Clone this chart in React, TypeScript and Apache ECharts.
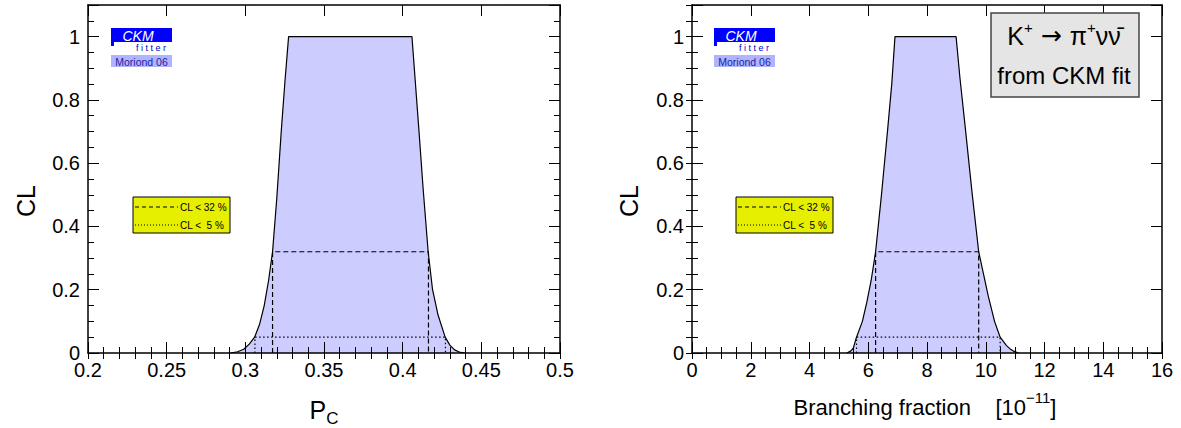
import { useEffect, useRef } from "react";
import * as echarts from "echarts";

const FONT = "'Liberation Sans', Arial, Helvetica, sans-serif";

// ---- Left panel: CL vs P_c ----
const pcX = [0.2906, 0.295, 0.299, 0.3025, 0.3059, 0.309, 0.312, 0.3148, 0.3173, 0.32, 0.3229, 0.3252, 0.3275, 0.4059, 0.408, 0.4103, 0.413, 0.4162, 0.419, 0.4225, 0.427, 0.43, 0.433, 0.436, 0.4394];
const pcCL = [0, 0.004, 0.012, 0.028, 0.05, 0.09, 0.15, 0.23, 0.32, 0.49, 0.706, 0.86, 1, 1, 0.86, 0.706, 0.52, 0.32, 0.2, 0.12, 0.05, 0.025, 0.01, 0.003, 0];
const pc32 = [0.3173, 0.4164];
const pc05 = [0.3061, 0.4272];

// ---- Right panel: CL vs BR(K+ -> pi+ nu nubar) [1e-11] ----
const brX = [5.27, 5.4, 5.49, 5.6, 5.8, 5.95, 6.1, 6.25, 6.45, 6.66, 6.8, 6.91, 8.99, 9.12, 9.31, 9.53, 9.76, 10.09, 10.3, 10.49, 10.7, 10.83, 10.97, 11.11];
const brCL = [0, 0.006, 0.015, 0.05, 0.1, 0.16, 0.23, 0.32, 0.5, 0.706, 0.85, 1, 1, 0.871, 0.706, 0.51, 0.32, 0.178, 0.1, 0.05, 0.024, 0.013, 0.005, 0];
const br32 = [6.25, 9.76];
const br05 = [5.6, 10.49];

const clLevels = [0.32, 0.05];
const legendLabels = ["CL < 32 %", "CL <  5 %"];

const pcRange = { min: 0.2, max: 0.5, major: 0.05, minor: 0.01 };
const brRange = { min: 0, max: 16, major: 2, minor: 0.5 };
const clRange = { min: 0, max: 1.1, major: 0.2, minor: 0.05 };

const BLACK = "#000";

function fmt(v: number) {
  return String(+v.toFixed(3));
}

function xAxes(grid: number, r: any) {
  const base: any = { type: "value", gridIndex: grid, min: r.min, max: r.max, splitLine: { show: false }, z: 10 };
  const line = { show: true, onZero: false, lineStyle: { color: BLACK, width: 1.5 } };
  const major = { show: true, inside: true, length: 11, lineStyle: { color: BLACK, width: 1 } };
  const minor = { show: true, inside: true, length: 6, lineStyle: { color: BLACK, width: 1 } };
  return [
    { ...base, position: "bottom", interval: r.major, axisLine: line, axisTick: major,
      axisLabel: { show: true, color: BLACK, fontSize: 20, fontFamily: FONT, margin: 7, formatter: fmt } },
    { ...base, position: "bottom", interval: r.minor, axisLine: { show: false }, axisTick: minor, axisLabel: { show: false } },
    { ...base, position: "top", interval: r.major, axisLine: line, axisTick: major, axisLabel: { show: false } },
    { ...base, position: "top", interval: r.minor, axisLine: { show: false }, axisTick: minor, axisLabel: { show: false } },
  ];
}

function yAxes(grid: number, r: any) {
  const base: any = { type: "value", gridIndex: grid, min: r.min, max: r.max, splitLine: { show: false }, z: 10 };
  const line = { show: true, onZero: false, lineStyle: { color: BLACK, width: 1.5 } };
  const major = { show: true, inside: true, length: 11, lineStyle: { color: BLACK, width: 1 } };
  const minor = { show: true, inside: true, length: 6, lineStyle: { color: BLACK, width: 1 } };
  return [
    { ...base, position: "left", interval: r.major, axisLine: line, axisTick: major,
      axisLabel: { show: true, color: BLACK, fontSize: 20, fontFamily: FONT, margin: 8,
        formatter: (v: number) => (v > 1.001 ? "" : fmt(v)) } },
    { ...base, position: "left", interval: r.minor, axisLine: { show: false }, axisTick: minor, axisLabel: { show: false } },
    { ...base, position: "right", interval: r.major, axisLine: line, axisTick: major, axisLabel: { show: false } },
    { ...base, position: "right", interval: r.minor, axisLine: { show: false }, axisTick: minor, axisLabel: { show: false } },
  ];
}

function panelSeries(axisIdx: number, xs: number[], cl: number[], b32: number[], b05: number[]) {
  const curve = xs.map((x, i) => [x, cl[i]]);
  const box = (b: number[], lvl: number) => [[b[0], 0], [b[0], lvl], [b[1], lvl], [b[1], 0]];
  const common = { type: "line", xAxisIndex: axisIdx, yAxisIndex: axisIdx, symbol: "none", silent: true };
  return [
    { ...common, data: curve, z: 2, lineStyle: { color: BLACK, width: 1.2 }, areaStyle: { color: "#ccccff", opacity: 1 } },
    { ...common, data: box(b32, clLevels[0]), z: 3, lineStyle: { color: BLACK, width: 1.2, type: [5, 3] } },
    { ...common, data: box(b05, clLevels[1]), z: 3, lineStyle: { color: BLACK, width: 1.2, type: [1.5, 2.5] } },
  ];
}

function logo(x: number, y: number) {
  return {
    type: "group", x, y, z: 20,
    children: [
      { type: "rect", shape: { x: 0, y: 0, width: 61, height: 18 }, style: { fill: "#0000ff" } },
      { type: "rect", shape: { x: 3, y: 14, width: 58, height: 4 }, style: { fill: "#ffffff" } },
      { type: "text", x: 27, y: 7.5, style: { text: "CKM", fill: "#fff", font: `italic 14px ${FONT}`, align: "center", verticalAlign: "middle" } },
      { type: "text", x: 40, y: 19.5, style: { text: "f i t t e r", fill: "#0000cc", font: `9px ${FONT}`, align: "center", verticalAlign: "middle" } },
      { type: "rect", shape: { x: 0, y: 27, width: 61, height: 12 }, style: { fill: "#b0b4ff" } },
      { type: "text", x: 30.5, y: 33.5, style: { text: "Moriond 06", fill: "#2323a0", font: `10.5px ${FONT}`, align: "center", verticalAlign: "middle" } },
    ],
  };
}

function legendBox(x: number, y: number) {
  return {
    type: "group", x, y, z: 20,
    children: [
      { type: "rect", shape: { x: 0, y: 0, width: 97, height: 36 }, style: { fill: "#e6ef00", stroke: BLACK, lineWidth: 1 } },
      { type: "line", shape: { x1: 2, y1: 10, x2: 45, y2: 10 }, style: { stroke: BLACK, lineWidth: 1, lineDash: [4, 3] } },
      { type: "line", shape: { x1: 2, y1: 28, x2: 45, y2: 28 }, style: { stroke: BLACK, lineWidth: 1, lineDash: [1, 2] } },
      { type: "text", x: 47, y: 10, style: { text: legendLabels[0], fill: BLACK, font: `10px ${FONT}`, verticalAlign: "middle" } },
      { type: "text", x: 47, y: 28, style: { text: legendLabels[1], fill: BLACK, font: `10px ${FONT}`, verticalAlign: "middle" } },
    ],
  };
}

export default function App() {
  const ref = useRef<HTMLDivElement>(null);
  useEffect(() => {
    if (!ref.current) return;
    const chart = echarts.init(ref.current, undefined, { renderer: "svg" });
    const option: any = {
      animation: false,
      backgroundColor: "#ffffff",
      grid: [
        { left: 88, top: 5, width: 472, height: 348 },
        { left: 692, top: 5, width: 470, height: 348 },
      ],
      xAxis: [...xAxes(0, pcRange), ...xAxes(1, brRange)],
      yAxis: [...yAxes(0, clRange), ...yAxes(1, clRange)],
      series: [
        ...panelSeries(0, pcX, pcCL, pc32, pc05),
        ...panelSeries(4, brX, brCL, br32, br05),
      ],
      graphic: [
        logo(111, 28),
        logo(714, 28),
        legendBox(133, 197),
        legendBox(736, 197),
        { type: "text", x: 26, y: 201, rotation: Math.PI / 2, z: 20,
          style: { text: "CL", font: `25px ${FONT}`, fill: BLACK, align: "center", verticalAlign: "middle" } },
        { type: "text", x: 629, y: 201, rotation: Math.PI / 2, z: 20,
          style: { text: "CL", font: `25px ${FONT}`, fill: BLACK, align: "center", verticalAlign: "middle" } },
        { type: "text", x: 324, y: 410, z: 20,
          style: { text: "{p|P}{c|C}", align: "center", verticalAlign: "middle",
            rich: {
              p: { fontSize: 25, fontFamily: FONT, fill: BLACK, lineHeight: 34, verticalAlign: "middle" },
              c: { fontSize: 17, fontFamily: FONT, fill: BLACK, lineHeight: 16, verticalAlign: "bottom" },
            } } },
        { type: "text", x: 925, y: 404, z: 20,
          style: { text: "{n|Branching fraction    [10}{s|−11}{n|]}", align: "center", verticalAlign: "middle",
            rich: {
              n: { fontSize: 22, fontFamily: FONT, fill: BLACK, lineHeight: 28, verticalAlign: "bottom" },
              s: { fontSize: 15, fontFamily: FONT, fill: BLACK, lineHeight: 14, verticalAlign: "top" },
            } } },
        { type: "rect", z: 20, shape: { x: 991, y: 13, width: 148, height: 84 },
          style: { fill: "#e5e5e5", stroke: "#444", lineWidth: 1.5 } },
        { type: "text", x: 1064, y: 34, z: 21,
          style: { text: "{n|K}{s|+}{a| → }{n|π}{s|+}{n|νν\u0304}", align: "center", verticalAlign: "middle",
            rich: {
              n: { fontSize: 25, fontFamily: FONT, fill: BLACK, lineHeight: 28, verticalAlign: "bottom" },
              a: { fontSize: 25, fontFamily: "'DejaVu Sans', sans-serif", fill: BLACK, lineHeight: 28, verticalAlign: "bottom" },
              s: { fontSize: 15, fontFamily: FONT, fill: BLACK, lineHeight: 13, verticalAlign: "top" },
            } } },
        { type: "text", x: 1064, y: 75, z: 21,
          style: { text: "from CKM fit", font: `24px ${FONT}`, fill: BLACK, align: "center", verticalAlign: "middle" } },
      ],
    };
    chart.setOption(option);
    return () => chart.dispose();
  }, []);
  return <div ref={ref} style={{ position: "fixed", left: 0, top: 0, width: 1181, height: 428, background: "#fff" }} />;
}
